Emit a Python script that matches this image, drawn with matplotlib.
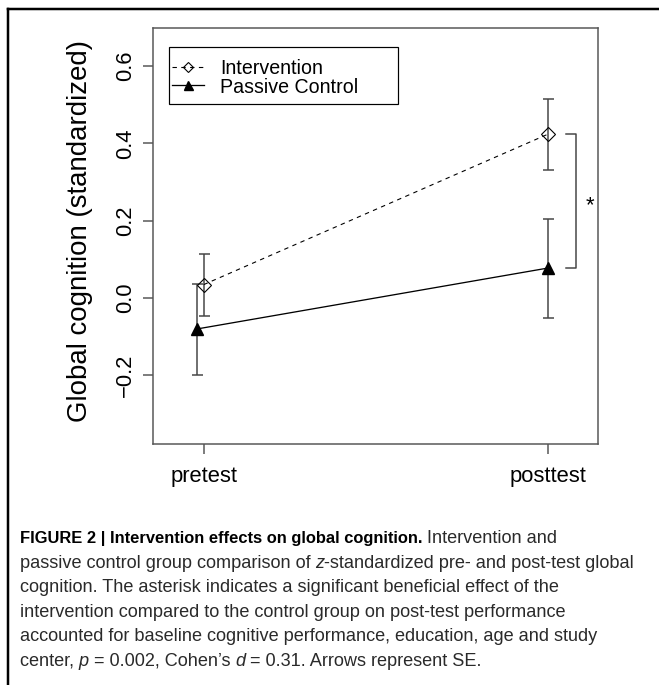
import matplotlib
matplotlib.use('Agg')
import matplotlib.pyplot as plt
from matplotlib.lines import Line2D
from matplotlib.patches import Rectangle

# ---------------- data ----------------
times = ['pretest', 'posttest']
x_pos = [1, 2]
series_names = ['Intervention', 'Passive Control']
intervention_mean = [0.034, 0.424]
intervention_lo = [-0.047, 0.331]
intervention_hi = [0.114, 0.514]
control_mean = [-0.081, 0.077]
control_lo = [-0.200, -0.053]
control_hi = [0.035, 0.205]
control_offset = [-0.02, 0.0]
yticks = [-0.2, 0.0, 0.2, 0.4, 0.6]
ytick_labels = ['\u22120.2', '0.0', '0.2', '0.4', '0.6']
ylabel = 'Global cognition (standardized)'
signif_mark = '*'

caption_lines = [
    [("FIGURE 2 | Intervention effects on global cognition.", 'bold'), (" Intervention and", 'normal')],
    [("passive control group comparison of ", 'normal'), ("z", 'italic'),
     ("-standardized pre- and post-test global", 'normal')],
    [("cognition. The asterisk indicates a significant beneficial effect of the", 'normal')],
    [("intervention compared to the control group on post-test performance", 'normal')],
    [("accounted for baseline cognitive performance, education, age and study", 'normal')],
    [("center, ", 'normal'), ("p", 'italic'), (" = 0.002, Cohen\u2019s ", 'normal'), ("d", 'italic'),
     (" = 0.31. Arrows represent SE.", 'normal')],
]

# ---------------- layout ----------------
W, H, DPI = 659, 685, 100
PX = 72.0 / DPI  # points per pixel


def fx(px):
    return px / W


def fy(py):
    return 1 - py / H


plt.rcParams['font.family'] = ['Liberation Sans', 'DejaVu Sans']

fig = plt.figure(figsize=(W / DPI, H / DPI), dpi=DPI)
fig.patch.set_facecolor('white')

ax = fig.add_axes([fx(152.7), fy(444), (598 - 152.7) / W, (444 - 28) / H])
ax.set_xlim(0.852, 2.145)
ax.set_ylim(-0.379, 0.699)

axis_gray = '#555555'
for sp in ax.spines.values():
    sp.set_color(axis_gray)
    sp.set_linewidth(1.5 * PX)

ax.set_xticks(x_pos)
ax.set_xticklabels(times, fontsize=22 * PX)
ax.set_yticks(yticks)
ax.set_yticklabels(ytick_labels, fontsize=22 * PX, rotation=90, va='center')
ax.tick_params(axis='both', color=axis_gray, length=10 * PX, width=1.5 * PX)
ax.tick_params(axis='x', pad=12 * PX)
ax.tick_params(axis='y', pad=7 * PX)
ax.set_ylabel(ylabel, fontsize=27.6 * PX)
ax.yaxis.set_label_coords(-0.135, 0.512)

err_col = '#444444'
x_int = x_pos
x_ctl = [x + o for x, o in zip(x_pos, control_offset)]
ax.errorbar(x_int, intervention_mean,
            yerr=[[m - l for m, l in zip(intervention_mean, intervention_lo)],
                  [h - m for m, h in zip(intervention_mean, intervention_hi)]],
            fmt='none', ecolor=err_col, elinewidth=1.5 * PX, capsize=5.5 * PX, capthick=1.5 * PX, zorder=2)
ax.errorbar(x_ctl, control_mean,
            yerr=[[m - l for m, l in zip(control_mean, control_lo)],
                  [h - m for m, h in zip(control_mean, control_hi)]],
            fmt='none', ecolor=err_col, elinewidth=1.5 * PX, capsize=5.5 * PX, capthick=1.5 * PX, zorder=2)

ax.plot(x_int, intervention_mean, color='black', lw=1.1 * PX, dashes=(4, 4),
        marker='D', ms=10.3 * PX, mfc='none', mec='black', mew=1.1 * PX, zorder=3)
ax.plot(x_ctl, control_mean, color='black', lw=1.3 * PX,
        marker='^', ms=11.5 * PX, mfc='black', mec='black', zorder=3)

# significance bracket
bx, btick = 2.082, 2.051
ax.plot([btick, bx, bx, btick], [intervention_mean[1], intervention_mean[1], control_mean[1], control_mean[1]],
        color=err_col, lw=1.5 * PX)
ax.annotate(signif_mark, xy=(2.121, (intervention_mean[1] + control_mean[1]) / 2),
            xytext=(0, -10 * PX), textcoords='offset points', fontsize=22 * PX,
            ha='center', va='baseline')

# legend (R-style box)
leg_left, leg_right, leg_top, leg_bot = 169, 398, 47, 104
fig.add_artist(Rectangle((fx(leg_left), fy(leg_bot)), (leg_right - leg_left) / W, (leg_bot - leg_top) / H,
                         transform=fig.transFigure, fill=False, edgecolor='black', lw=1.2 * PX))
rows = [(67.0, 74.3), (85.3, 92.7)]
styles = [dict(color='black', lw=1.1 * PX, dashes=(4, 4), marker='D', ms=7.5 * PX, mfc='none',
               mec='black', mew=1.1 * PX),
          dict(color='black', lw=1.3 * PX, marker='^', ms=9 * PX, mfc='black', mec='black')]
for (yc, yb), name, st in zip(rows, series_names, styles):
    fig.add_artist(Line2D([fx(172), fx(204)], [fy(yc), fy(yc)], transform=fig.transFigure, **st,
                          markevery=[]))
    fig.add_artist(Line2D([fx(188)], [fy(yc)], transform=fig.transFigure,
                          **{k: v for k, v in st.items() if k not in ('dashes',)}, linestyle='none'))
    fig.text(fx(220), fy(yb), name, fontsize=19.7 * PX, ha='left', va='baseline')

# outer frame (left and top rules)
fig.add_artist(Line2D([fx(8), fx(8)], [fy(690), fy(9)], transform=fig.transFigure, color='black', lw=2.5 * PX))
fig.add_artist(Line2D([fx(8), fx(670)], [fy(9), fy(9)], transform=fig.transFigure, color='black', lw=2.5 * PX))

# ---------------- caption ----------------
cap_family = ['Liberation Sans', 'DejaVu Sans']
renderer = fig.canvas.get_renderer()


def piece_width(s, size, style):
    kw = dict(fontsize=size, family=cap_family)
    if style == 'bold':
        kw['weight'] = 'bold'
    elif style == 'italic':
        kw['style'] = 'italic'
    t1 = fig.text(0, 0, '|' + s + '|', **kw)
    t2 = fig.text(0, 0, '||', **kw)
    w = t1.get_window_extent(renderer).width - t2.get_window_extent(renderer).width
    t1.remove()
    t2.remove()
    return w


cap_size = 10 * 583.0 / piece_width(caption_lines[4][0][0], 10, 'normal')
# condensed bold run in the reference: fit its width (about 386 px), but not too small
bold_size = 10 * 386.0 / piece_width(caption_lines[0][0][0], 10, 'bold')
bold_size = max(bold_size, cap_size * 0.91)

cap_color = '#2a2a2a'
x0 = 19.5
for i, line in enumerate(caption_lines):
    yb = 543 + 24.6 * i
    x = x0
    for s, style in line:
        size = bold_size if style == 'bold' else cap_size
        kw = dict(fontsize=size, family=cap_family, color=cap_color, ha='left', va='baseline')
        if style == 'bold':
            kw['weight'] = 'bold'
            kw['color'] = 'black'
        elif style == 'italic':
            kw['style'] = 'italic'
        lead = len(s) - len(s.lstrip(' '))
        sp_w = piece_width(' ' * lead, size, style) if lead else 0
        fig.text(fx(x + sp_w), fy(yb), s.lstrip(' '), **kw)
        x += piece_width(s, size, style)

fig.savefig('out.png', dpi=DPI, facecolor='white')
